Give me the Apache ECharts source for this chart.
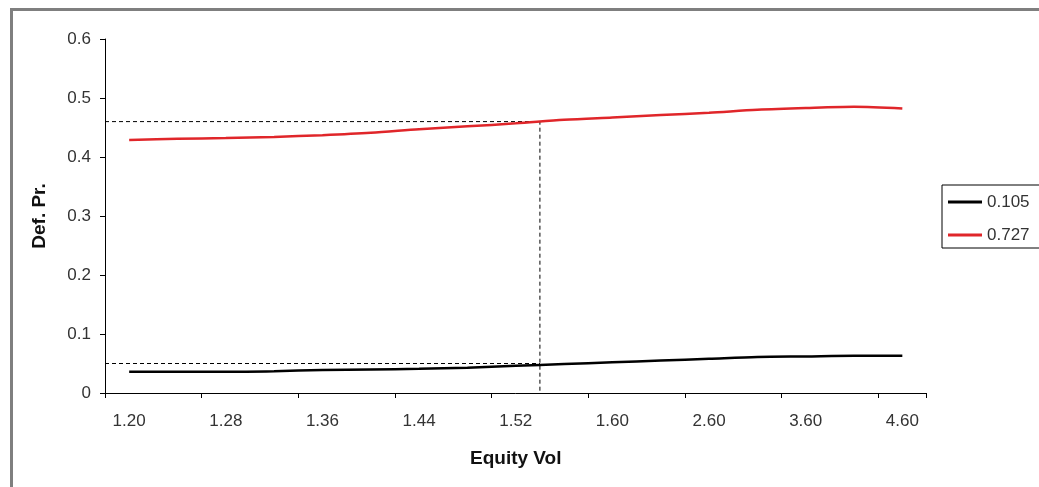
<!DOCTYPE html>
<html>
<head>
<meta charset="utf-8">
<script src="https://cdn.jsdelivr.net/npm/echarts@6/dist/echarts.min.js"></script>
<style>
html,body{margin:0;padding:0;background:#fff;}
#chart{width:1039px;height:487px;}
</style>
</head>
<body>
<div id="chart"></div>
<script>
// Equity vol categories (only every other one is labelled on the axis)
const categories = ['1.20','1.24','1.28','1.32','1.36','1.40','1.44','1.48','1.52','1.56','1.60','2.10','2.60','3.10','3.60','4.10','4.60'];
const seriesNames = ['0.105', '0.727'];
const black105 = [0.036,0.036,0.036,0.037,0.039,0.040,0.041,0.043,0.046,0.049,0.052,0.055,0.058,0.061,0.062,0.063,0.063];
const red727   = [0.429,0.431,0.432,0.434,0.437,0.441,0.447,0.452,0.457,0.463,0.467,0.471,0.475,0.480,0.483,0.485,0.482];
// reference (dashed) guide lines
const refLevels = [0.46, 0.05];   // default probabilities read at the chosen vol
const refX = 8.5;                 // between categories 1.52 and 1.56
const yTicks = [0, 0.1, 0.2, 0.3, 0.4, 0.5, 0.6];

const font = 'Liberation Sans, Arial, sans-serif';
const chart = echarts.init(document.getElementById('chart'));
const xStart = -0.5, xEnd = categories.length - 0.5;

chart.setOption({
  animation: false,
  backgroundColor: '#ffffff',
  graphic: [{
    type: 'rect', shape: {x: 11.5, y: 9.5, width: 1100, height: 600},
    style: {fill: 'none', stroke: '#7f7f7f', lineWidth: 3}, z: -10
  }],
  grid: {left: 105, right: 112.5, top: 39, bottom: 94},
  legend: {
    orient: 'vertical', left: 942, top: 185,
    padding: [7, 60, 3, 6],
    itemGap: 13, itemWidth: 34, itemHeight: 3, icon: 'rect',
    backgroundColor: '#fff', borderColor: '#000', borderWidth: 1,
    textStyle: {fontFamily: font, fontSize: 17, color: '#333', lineHeight: 20},
    data: seriesNames
  },
  xAxis: [{
    type: 'category', data: categories, boundaryGap: true,
    axisLine: {onZero: false, lineStyle: {color: '#000', width: 1}},
    axisTick: {show: true, interval: 1, length: 5, inside: false, lineStyle: {color: '#000'}},
    axisLabel: {interval: 1, margin: 20, fontFamily: font, fontSize: 17, color: '#333'},
    splitLine: {show: false},
    name: 'Equity Vol', nameLocation: 'middle', nameGap: 56,
    nameTextStyle: {fontFamily: font, fontSize: 19, fontWeight: 'bold', color: '#111'}
  }, {
    type: 'value', min: xStart, max: xEnd, show: false
  }],
  yAxis: {
    type: 'value', min: yTicks[0], max: yTicks[yTicks.length - 1], interval: 0.1,
    axisLine: {show: true, onZero: false, lineStyle: {color: '#000', width: 1}},
    axisTick: {show: true, length: 5, lineStyle: {color: '#000'}},
    axisLabel: {margin: 14, fontFamily: font, fontSize: 17, color: '#333'},
    splitLine: {show: false},
    name: 'Def. Pr.', nameLocation: 'middle', nameGap: 56, nameRotate: 90,
    nameTextStyle: {fontFamily: font, fontSize: 19, fontWeight: 'bold', color: '#111'}
  },
  series: [{
    name: seriesNames[0], type: 'line', data: black105, smooth: 0.3,
    showSymbol: false, itemStyle: {color: '#000'}, lineStyle: {color: '#000', width: 2.5}, z: 3
  }, {
    name: seriesNames[1], type: 'line', data: red727, smooth: 0.3,
    showSymbol: false, itemStyle: {color: '#e0262a'}, lineStyle: {color: '#e0262a', width: 2.5}, z: 3
  }, {
    name: 'guideUpper', type: 'line', xAxisIndex: 1, showSymbol: false, silent: true,
    data: [[xStart, refLevels[0]], [refX, refLevels[0]], [refX, 0]],
    lineStyle: {color: '#000', width: 1, type: [4, 3]}, z: 2
  }, {
    name: 'guideLower', type: 'line', xAxisIndex: 1, showSymbol: false, silent: true,
    data: [[xStart, refLevels[1]], [refX, refLevels[1]]],
    lineStyle: {color: '#000', width: 1, type: [4, 3]}, z: 2
  }]
});
</script>
</body>
</html>
